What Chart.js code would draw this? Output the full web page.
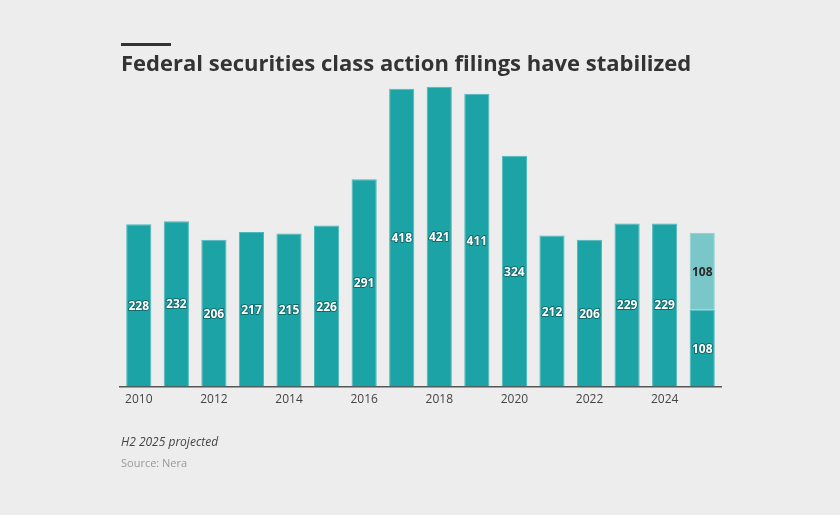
<!DOCTYPE html>
<html><head><meta charset="utf-8">
<script src="https://cdn.jsdelivr.net/npm/chart.js@4"></script>
<style>
html,body{margin:0;padding:0;background:#ededed;}
#wrap{position:relative;width:840px;height:515px;overflow:hidden;font-family:"Open Sans",sans-serif;}
#bar{position:absolute;left:121px;top:43px;width:50px;height:3px;background:#333;}
#title{position:absolute;left:121px;top:47px;font-weight:700;font-size:22px;color:#333;white-space:nowrap;letter-spacing:0;}
#note{position:absolute;left:121px;top:433px;font-style:italic;font-size:12px;color:#444;}
#src{position:absolute;left:121px;top:455px;font-size:11px;color:#999;}
canvas{position:absolute;left:0;top:0;}
</style></head><body>
<div id="wrap">
<canvas id="c" width="840" height="515"></canvas>
<div id="bar"></div>
<div id="title">Federal securities class action filings have stabilized</div>
<div id="note">H2 2025 projected</div>
<div id="src">Source: Nera</div>
</div>
<script>
const years = ["2010","2011","2012","2013","2014","2015","2016","2017","2018","2019","2020","2021","2022","2023","2024","2025"];
const filings = [228,232,206,217,215,226,291,418,421,411,324,212,206,229,229,108];
const projected = [null,null,null,null,null,null,null,null,null,null,null,null,null,null,null,108];

const labelPlugin = {
  id:'barLabels',
  afterDatasetsDraw(chart){
    const ctx = chart.ctx;
    chart.data.datasets.forEach((ds,di)=>{
      const meta = chart.getDatasetMeta(di);
      meta.data.forEach((el,i)=>{
        const v = ds.data[i];
        if(v==null) return;
        const y = (el.y + el.base)/2 + 1;
        ctx.save();
        ctx.font = '700 12px "Open Sans"';
        ctx.textAlign='center';ctx.textBaseline='middle';
        if(di===0){
          ctx.lineWidth=2;ctx.strokeStyle='rgba(10,60,60,0.55)';ctx.lineJoin='round';
          ctx.strokeText(String(v),el.x,y);
          ctx.fillStyle='#ffffff';
        } else {
          ctx.fillStyle='#2a2a2a';
        }
        ctx.fillText(String(v),el.x,y);
        ctx.restore();
      });
    });
  }
};

new Chart(document.getElementById('c'),{
  type:'bar',
  data:{labels:years,datasets:[
    {data:filings,backgroundColor:'#1ba3a6',borderColor:'#4cb8ba',borderWidth:{top:1,left:1,right:1,bottom:0},categoryPercentage:1,barPercentage:0.67},
    {data:projected,backgroundColor:'#79c7c9',borderColor:'#8fd0d2',borderWidth:{top:1,left:1,right:1,bottom:0},categoryPercentage:1,barPercentage:0.67}
  ]},
  options:{
    responsive:false,animation:false,
    layout:{padding:{left:120,right:119,top:66,bottom:102}},
    plugins:{legend:{display:false},tooltip:{enabled:false},title:{display:false}},
    scales:{
      x:{stacked:true,grid:{display:false,drawTicks:false},border:{display:true,color:'#555',width:1.5},
         ticks:{autoSkip:false,maxRotation:0,padding:6,color:'#444',font:{family:'"Open Sans"',size:12},
           callback:function(v,i){return i%2===0?this.getLabelForValue(v):'';}}},
      y:{stacked:true,display:false,min:0,max:450}
    }
  },
  plugins:[labelPlugin]
});
</script>
</body></html>
